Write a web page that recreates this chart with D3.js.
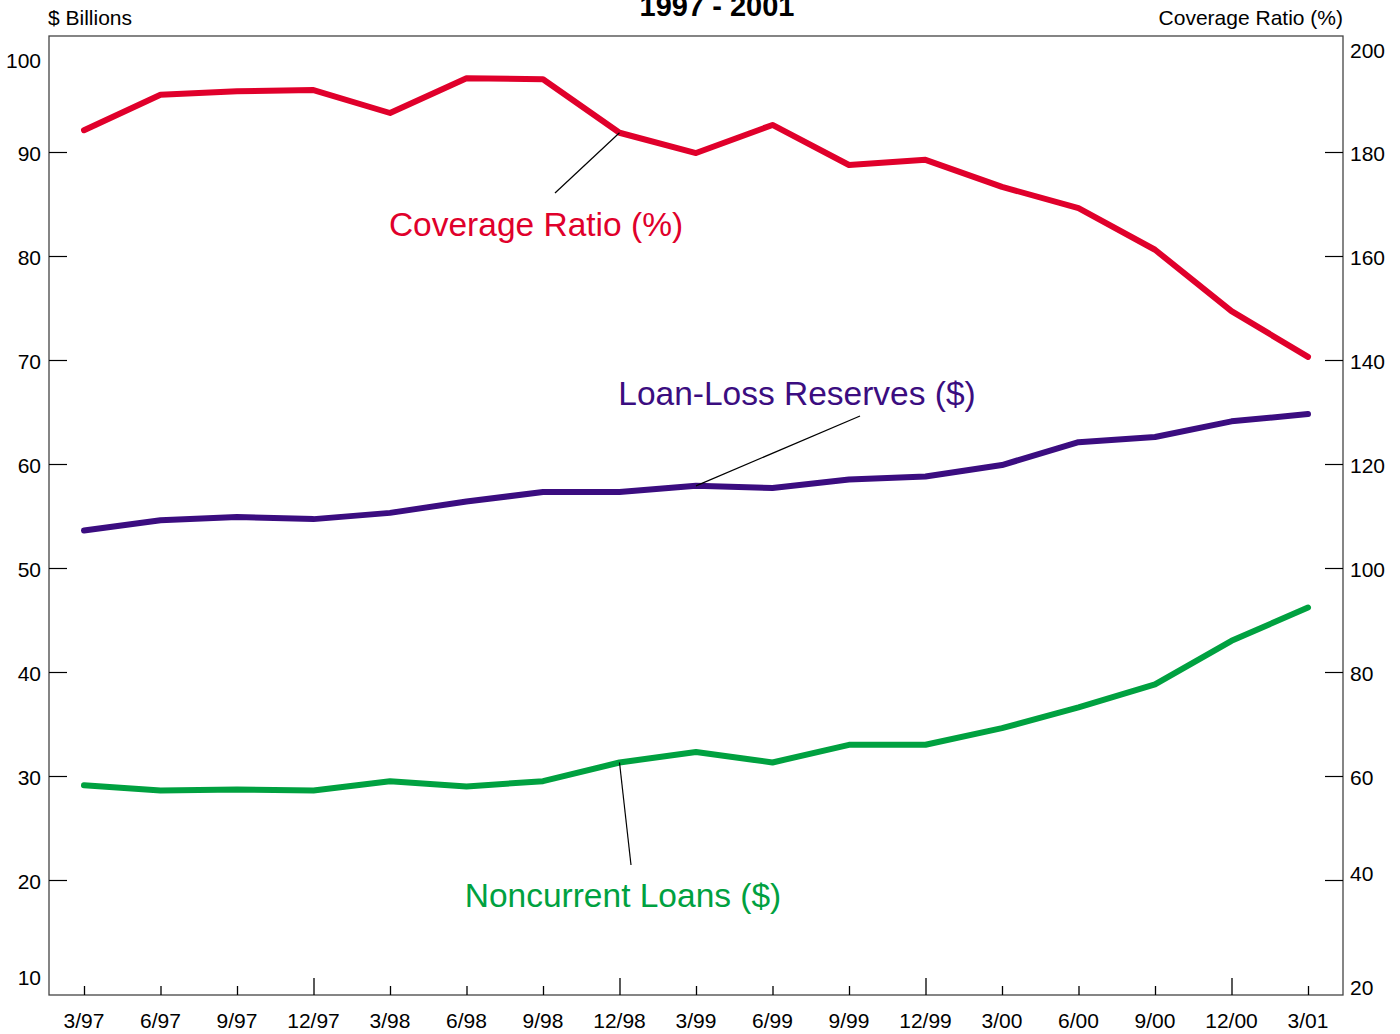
<!DOCTYPE html>
<html>
<head>
<meta charset="utf-8">
<script src="https://cdn.jsdelivr.net/npm/d3@7"></script>
<style>
  html, body { margin: 0; padding: 0; background: #fff; }
  svg { display: block; font-family: "Liberation Sans", Arial, sans-serif; }
</style>
</head>
<body>
<svg id="chart" width="1400" height="1034"></svg>
<script>
const quarters = ["3/97","6/97","9/97","12/97","3/98","6/98","9/98","12/98","3/99","6/99","9/99","12/99","3/00","6/00","9/00","12/00","3/01"];
const coverageRatio = [184.2,191.0,191.7,191.9,187.5,194.2,194.0,183.7,179.8,185.2,177.5,178.5,173.3,169.2,161.2,149.4,140.6];
const loanLossReserves = [53.6,54.6,54.9,54.7,55.3,56.4,57.3,57.3,57.9,57.7,58.5,58.8,59.9,62.1,62.6,64.1,64.8];
const noncurrentLoans = [29.1,28.6,28.7,28.6,29.5,29.0,29.5,31.3,32.3,31.3,33.0,33.0,34.6,36.6,38.8,43.0,46.2];
const leftTicks = [20,30,40,50,60,70,80,90];
const rightTicks = [40,60,80,100,120,140,160,180];
const title = "1997 - 2001";

const svg = d3.select("#chart");
const frame = {left: 49, right: 1343, top: 36, bottom: 995};

const x = d3.scalePoint().domain(quarters).range([84, 1308]);
const yL = d3.scaleLinear().domain([10, 100]).range([984, 48]);
const yR = d3.scaleLinear().domain([20, 200]).range([984, 48]);

// frame
svg.append("rect")
  .attr("x", frame.left).attr("y", frame.top)
  .attr("width", frame.right - frame.left).attr("height", frame.bottom - frame.top)
  .attr("fill", "none").attr("stroke", "#444").attr("stroke-width", 1.3);

// left axis
const gL = svg.append("g").attr("transform", `translate(${frame.left},0)`)
  .call(d3.axisRight(yL).tickValues(leftTicks).tickSize(18).tickFormat(""));
gL.select(".domain").remove();
gL.selectAll("line").attr("stroke", "#000").attr("stroke-width", 1.2);
const leftLabels = [10].concat(leftTicks).concat([100]);
svg.append("g").selectAll("text").data(leftLabels).join("text")
  .attr("x", 41)
  .attr("y", d => d === 100 ? 68 : d === 10 ? 985 : yL(d) + 9)
  .attr("text-anchor", "end").attr("font-size", 21).attr("fill", "#000")
  .text(d => d);

// right axis
const gR = svg.append("g").attr("transform", `translate(${frame.right},0)`)
  .call(d3.axisLeft(yR).tickValues(rightTicks).tickSize(18).tickFormat(""));
gR.select(".domain").remove();
gR.selectAll("line").attr("stroke", "#000").attr("stroke-width", 1.2);
const rightLabels = [20].concat(rightTicks).concat([200]);
svg.append("g").selectAll("text").data(rightLabels).join("text")
  .attr("x", 1350)
  .attr("y", d => d === 200 ? 58 : d === 20 ? 995 : d === 40 ? yR(d) + 1 : yR(d) + 9)
  .attr("text-anchor", "start").attr("font-size", 21).attr("fill", "#000")
  .text(d => d);

// bottom axis
const gB = svg.append("g").attr("transform", `translate(0,${frame.bottom})`)
  .call(d3.axisTop(x).tickSize(0).tickFormat(""));
gB.select(".domain").remove();
gB.selectAll(".tick").append("line")
  .attr("y1", 0).attr("y2", d => d.startsWith("12/") ? -17 : -9)
  .attr("stroke", "#000").attr("stroke-width", 1.3);
svg.append("g").selectAll("text").data(quarters).join("text")
  .attr("x", d => x(d)).attr("y", 1028)
  .attr("text-anchor", "middle").attr("font-size", 21).attr("fill", "#000")
  .text(d => d);

// axis titles
svg.append("text").attr("x", 48).attr("y", 25).attr("font-size", 21).attr("fill", "#000").text("$ Billions");
svg.append("text").attr("x", 1343).attr("y", 25).attr("text-anchor", "end").attr("font-size", 21).attr("fill", "#000").text("Coverage Ratio (%)");
svg.append("text").attr("x", 717).attr("y", 16).attr("text-anchor", "middle").attr("font-size", 29).attr("font-weight", "bold").attr("fill", "#000").text(title);

// lines
const lineL = d3.line().x((d, i) => x(quarters[i])).y(d => yL(d));
const lineR = d3.line().x((d, i) => x(quarters[i])).y(d => yR(d));
const red = "#e0002b", purple = "#3b0d80", green = "#00a140";

svg.append("path").datum(coverageRatio).attr("d", lineR)
  .attr("fill", "none").attr("stroke", red).attr("stroke-width", 6).attr("stroke-linejoin", "round").attr("stroke-linecap", "round");
svg.append("path").datum(loanLossReserves).attr("d", lineL)
  .attr("fill", "none").attr("stroke", purple).attr("stroke-width", 6).attr("stroke-linejoin", "round").attr("stroke-linecap", "round");
svg.append("path").datum(noncurrentLoans).attr("d", lineL)
  .attr("fill", "none").attr("stroke", green).attr("stroke-width", 6).attr("stroke-linejoin", "round").attr("stroke-linecap", "round");

// annotations
function leader(px, py, tx, ty) {
  svg.append("line").attr("x1", px).attr("y1", py).attr("x2", tx).attr("y2", ty)
    .attr("stroke", "#000").attr("stroke-width", 1.2);
}
leader(x("12/98"), yR(coverageRatio[7]), 555, 193);
leader(x("3/99"), yL(loanLossReserves[8]), 860, 416);
leader(x("12/98"), yL(noncurrentLoans[7]), 631, 865);

svg.append("text").attr("x", 536).attr("y", 236).attr("text-anchor", "middle")
  .attr("font-size", 33.5).attr("fill", red).text("Coverage Ratio (%)");
svg.append("text").attr("x", 797).attr("y", 405).attr("text-anchor", "middle")
  .attr("font-size", 33.5).attr("fill", purple).text("Loan-Loss Reserves ($)");
svg.append("text").attr("x", 623).attr("y", 907).attr("text-anchor", "middle")
  .attr("font-size", 33.5).attr("fill", green).text("Noncurrent Loans ($)");
</script>
</body>
</html>
